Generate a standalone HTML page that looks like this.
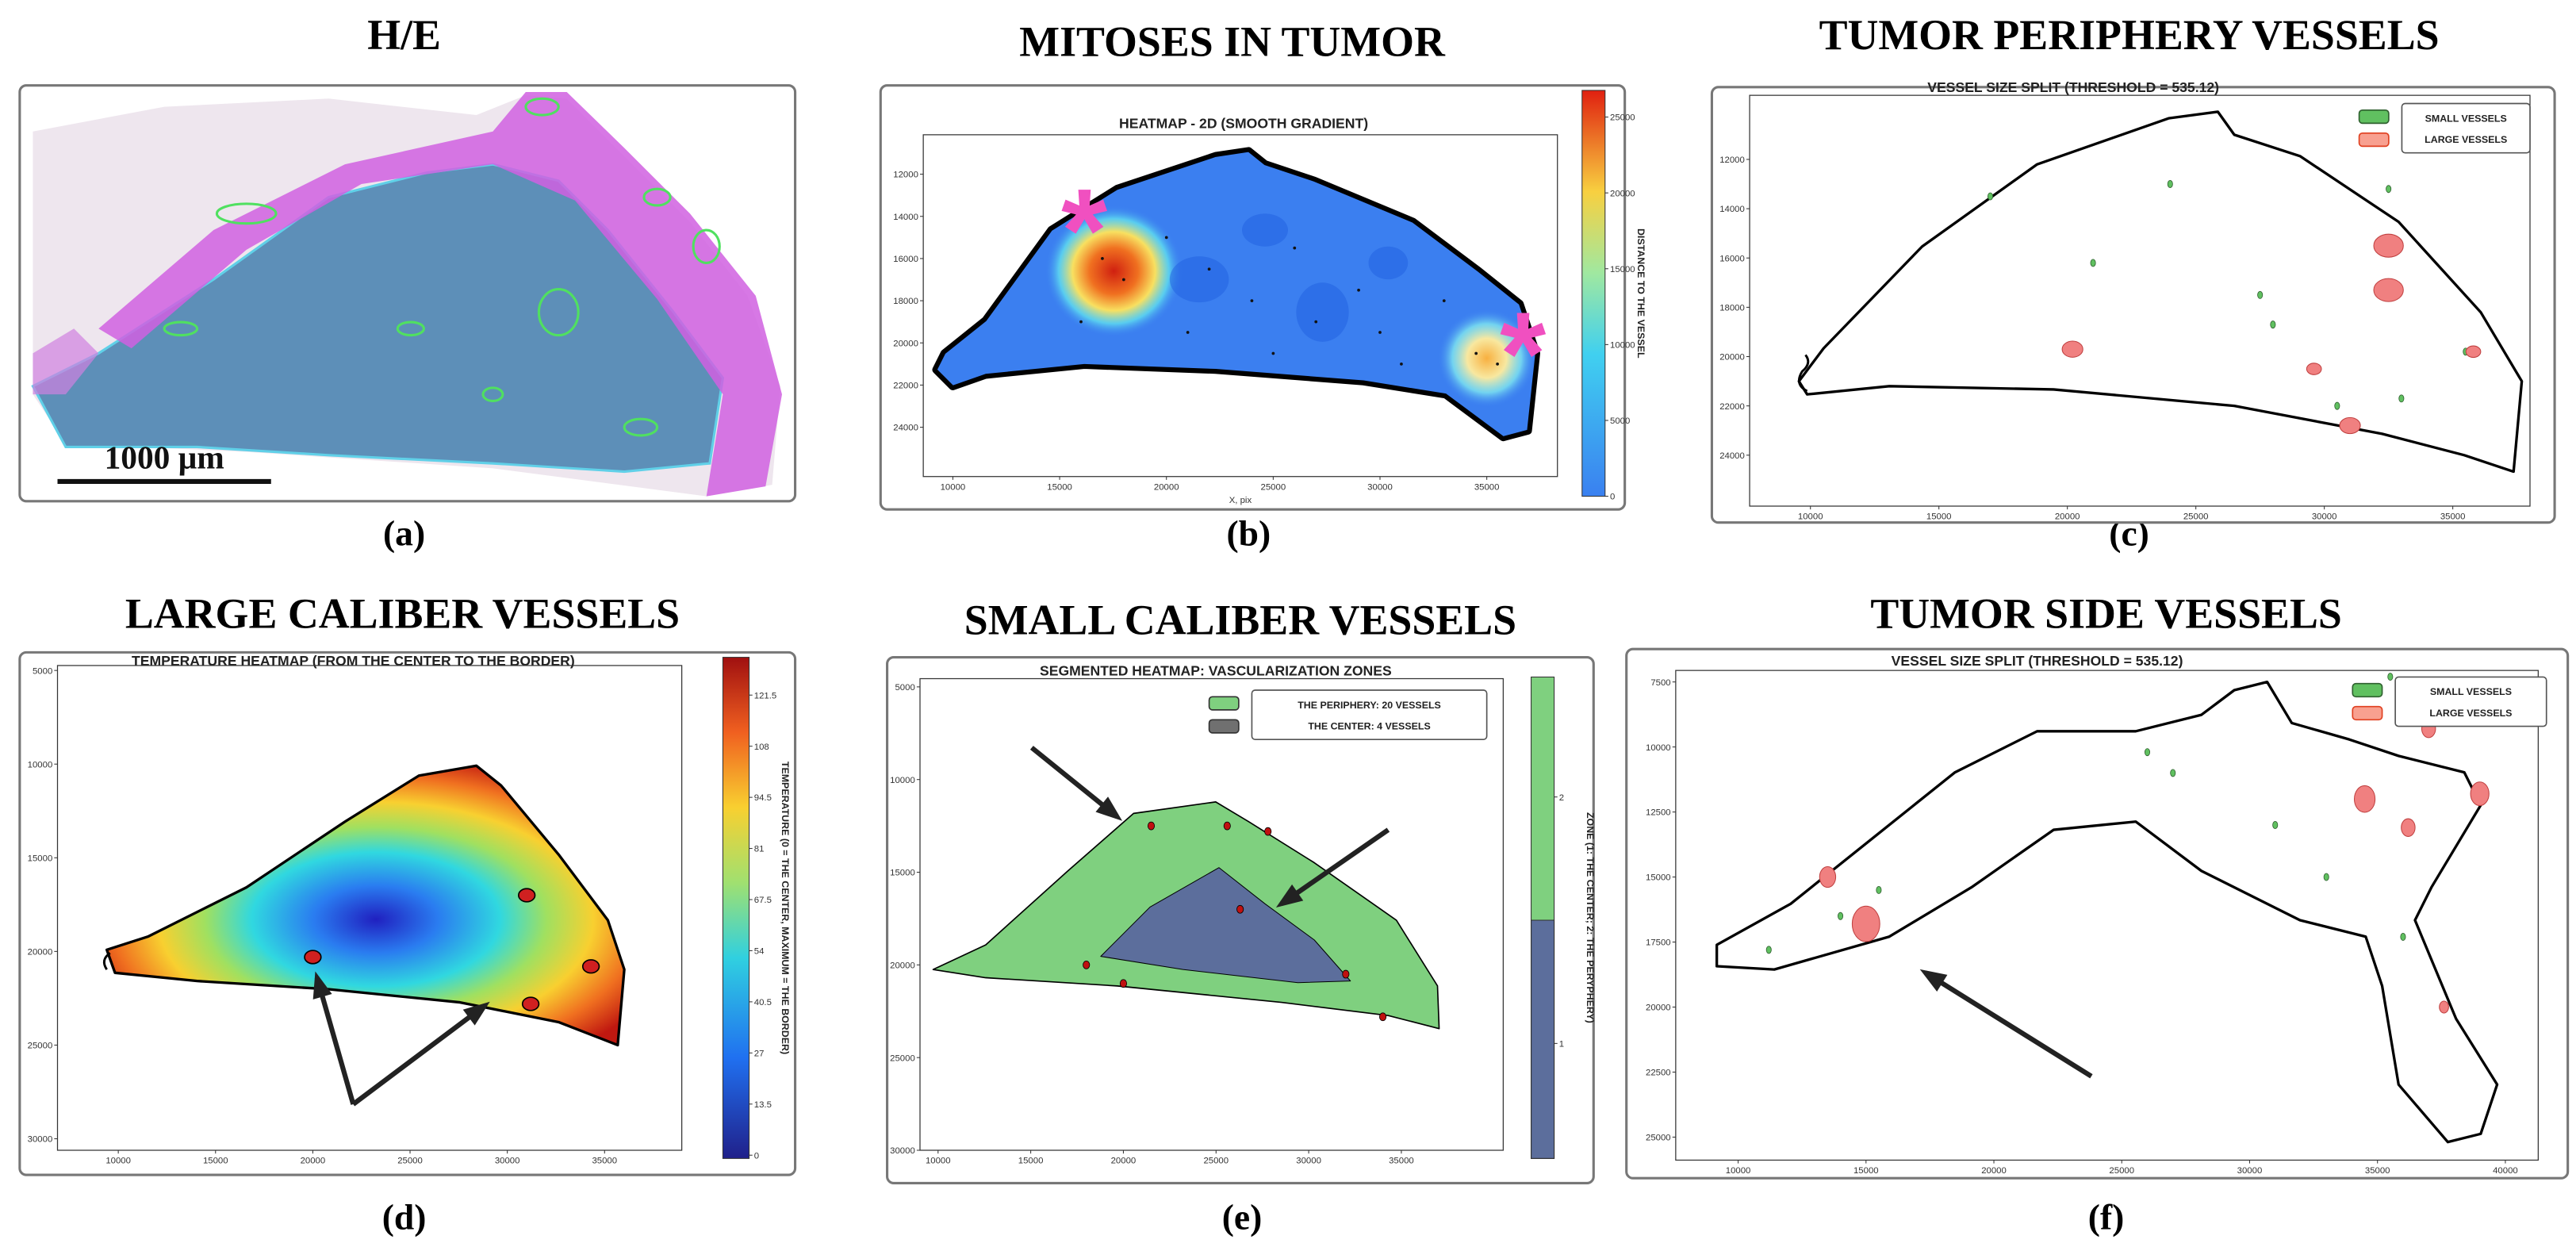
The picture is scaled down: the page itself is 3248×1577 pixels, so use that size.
<!DOCTYPE html>
<html><head><meta charset="utf-8">
<style>
html,body{margin:0;padding:0;background:#fff;}
svg{display:block;}
.t{font-family:"Liberation Serif",serif;font-weight:bold;font-size:26px;text-anchor:middle;}
.lb{font-family:"Liberation Serif",serif;font-weight:bold;font-size:22px;text-anchor:middle;}
.tk{font-family:"Liberation Sans",sans-serif;font-size:5.5px;fill:#333;}
.st{font-family:"Liberation Sans",sans-serif;font-weight:bold;font-size:8.5px;text-anchor:middle;fill:#222;}
.lg{font-family:"Liberation Sans",sans-serif;font-weight:bold;font-size:6px;fill:#222;}
</style></head>
<body>
<svg id="fig" width="3248" height="1577" viewBox="0 0 1568 761.3" xmlns="http://www.w3.org/2000/svg">
<defs>
<radialGradient id="gd" cx="0.52" cy="0.55" r="0.6">
<stop offset="0" stop-color="#2020c0"/><stop offset="0.2" stop-color="#2a7cf0"/><stop offset="0.4" stop-color="#30d8e0"/><stop offset="0.55" stop-color="#a0e060"/><stop offset="0.7" stop-color="#f8d030"/><stop offset="0.85" stop-color="#f07020"/><stop offset="1" stop-color="#c01810"/>
</radialGradient>
<radialGradient id="hot1"><stop offset="0" stop-color="#d02010"/><stop offset="0.35" stop-color="#f07020"/><stop offset="0.6" stop-color="#f8e060"/><stop offset="0.8" stop-color="#60e0f0" stop-opacity="0.8"/><stop offset="1" stop-color="#3b7ff0" stop-opacity="0"/></radialGradient>
<radialGradient id="hot2"><stop offset="0" stop-color="#f8b040"/><stop offset="0.4" stop-color="#f8e8a0"/><stop offset="0.7" stop-color="#80e8f0" stop-opacity="0.8"/><stop offset="1" stop-color="#3b7ff0" stop-opacity="0"/></radialGradient>
<linearGradient id="jet" x1="0" y1="1" x2="0" y2="0">
<stop offset="0" stop-color="#3a80f0"/><stop offset="0.35" stop-color="#40d0f0"/><stop offset="0.55" stop-color="#a0e8a0"/><stop offset="0.75" stop-color="#f8d040"/><stop offset="1" stop-color="#e02010"/></linearGradient>
<linearGradient id="jet2" x1="0" y1="1" x2="0" y2="0">
<stop offset="0" stop-color="#20208a"/><stop offset="0.2" stop-color="#2070f0"/><stop offset="0.4" stop-color="#30d0e0"/><stop offset="0.55" stop-color="#a0e070"/><stop offset="0.7" stop-color="#f8d030"/><stop offset="0.85" stop-color="#f06020"/><stop offset="1" stop-color="#a01010"/></linearGradient>
</defs>

<text class="t" x="246" y="30">H/E</text>
<text class="t" x="750" y="34">MITOSES IN TUMOR</text>
<text class="t" x="1296" y="30">TUMOR PERIPHERY VESSELS</text>
<text class="t" x="245" y="382">LARGE CALIBER VESSELS</text>
<text class="t" x="755" y="386">SMALL CALIBER VESSELS</text>
<text class="t" x="1282" y="382">TUMOR SIDE VESSELS</text>
<text class="lb" x="246" y="332">(a)</text>
<text class="lb" x="760" y="332">(b)</text>
<text class="lb" x="1296" y="332">(c)</text>
<text class="lb" x="246" y="748">(d)</text>
<text class="lb" x="756" y="748">(e)</text>
<text class="lb" x="1282" y="748">(f)</text>

<rect x="12" y="52" width="472" height="253" rx="4" fill="#fff" stroke="#777" stroke-width="1.5"/>
<rect x="536" y="52" width="453" height="258" rx="4" fill="#fff" stroke="#777" stroke-width="1.5"/>
<rect x="1042" y="53" width="513" height="265" rx="4" fill="#fff" stroke="#777" stroke-width="1.5"/>
<rect x="12" y="397" width="472" height="318" rx="4" fill="#fff" stroke="#777" stroke-width="1.5"/>
<rect x="540" y="400" width="430" height="320" rx="4" fill="#fff" stroke="#777" stroke-width="1.5"/>
<rect x="990" y="395" width="573" height="322" rx="4" fill="#fff" stroke="#777" stroke-width="1.5"/>

<g>
<polygon points="20,80 100,65 200,60 290,70 320,58 345,60 380,95 420,135 455,180 475,235 470,295 430,302 300,285 150,275 40,270 20,240" fill="#eee6ee"/>
<polygon points="20,235 60,215 130,170 200,120 260,105 300,100 340,110 370,140 410,190 440,230 432,282 380,287 300,282 200,277 120,272 40,272" fill="#5d8fb8" stroke="#60d0e8" stroke-width="1.5"/>
<polygon points="60,200 130,140 210,100 300,80 320,56 345,56 380,90 420,130 460,180 476,240 466,296 430,302 440,240 400,182 350,122 300,100 220,112 150,152 80,212" fill="#d060e0" opacity="0.85"/>
<polygon points="20,215 45,200 60,215 40,240 20,240" fill="#d080e0" opacity="0.7"/>
<g fill="none" stroke="#50e060" stroke-width="1.5">
<ellipse cx="150" cy="130" rx="18" ry="6"/><ellipse cx="340" cy="190" rx="12" ry="14"/><ellipse cx="330" cy="65" rx="10" ry="5"/><ellipse cx="430" cy="150" rx="8" ry="10"/><ellipse cx="250" cy="200" rx="8" ry="4"/><ellipse cx="110" cy="200" rx="10" ry="4"/><ellipse cx="400" cy="120" rx="8" ry="5"/><ellipse cx="300" cy="240" rx="6" ry="4"/><ellipse cx="390" cy="260" rx="10" ry="5"/></g>
<line x1="35" y1="293" x2="165" y2="293" stroke="#111" stroke-width="3"/>
<text x="100" y="285" font-family="Liberation Serif,serif" font-weight="bold" font-size="20" text-anchor="middle" fill="#111">1000 μm</text>
</g>

<g id="pb"></g>
<g id="pc"></g>
<g id="pd"></g>
<g id="pe"></g>
<g id="pf"></g>
</svg>
<script>
const NS="http://www.w3.org/2000/svg";
const bXTicks=[10000,15000,20000,25000,30000,35000];
const bYTicks=[12000,14000,16000,18000,20000,22000,24000];
const bCbTicks=[0,5000,10000,15000,20000,25000];
const cXTicks=[10000,15000,20000,25000,30000,35000];
const cYTicks=[12000,14000,16000,18000,20000,22000,24000];
const dXTicks=[10000,15000,20000,25000,30000,35000];
const dYTicks=[5000,10000,15000,20000,25000,30000];
const dCbTicks=[0,13.5,27,40.5,54,67.5,81,94.5,108,121.5];
const eXTicks=[10000,15000,20000,25000,30000,35000];
const eYTicks=[5000,10000,15000,20000,25000,30000];
const fXTicks=[10000,15000,20000,25000,30000,35000,40000];
const fYTicks=[7500,10000,12500,15000,17500,20000,22500,25000];
const cSmall=[[17000,13500],[24000,13000],[32500,13200],[27500,17500],[21000,16200],[28000,18700],[35500,19800],[30500,22000],[33000,21700]];
const cLarge=[[32500,15500,1.0],[32500,17300,1.0],[20200,19700,0.7],[29600,20500,0.5],[31000,22800,0.7],[35800,19800,0.5]];
const dLarge=[[31000,17000],[20000,20300],[31200,22800],[34300,20800]];
const eVessels=[[21500,12500],[25600,12500],[27800,12800],[26300,17000],[32000,20500],[34000,22800],[20000,21000],[18000,20000]];
const fSmall=[[35500,7300],[37500,8100],[26000,10200],[31000,13000],[11200,17800],[14000,16500],[15500,15500],[33000,15000],[36000,17300],[27000,11000]];
const fLarge=[[37000,9300,0.6],[34500,12000,0.9],[15000,16800,1.2],[13500,15000,0.7],[39000,11800,0.8],[36200,13100,0.6],[37600,20000,0.4]];
const bMitoses=[[17000,16000],[18000,17000],[20000,15000],[22000,16500],[24000,18000],[26000,15500],[27000,19000],[29000,17500],[30000,19500],[33000,18000],[34500,20500],[35500,21000],[16000,19000],[21000,19500],[25000,20500],[31000,21000]];

function el(p,t,a){const e=document.createElementNS(NS,t);for(const k in a)e.setAttribute(k,a[k]);p.appendChild(e);return e;}
function lin(d0,d1,r0,r1){return v=>r0+(v-d0)*(r1-r0)/(d1-d0);}
function axes(g,box,sx,sy,xt,yt){
  const r=el(g,'rect',{x:box[0],y:box[1],width:box[2]-box[0],height:box[3]-box[1],fill:'none',stroke:'#333','stroke-width':0.6});
  
  
  xt.forEach(v=>{const x=sx(v);el(g,'line',{x1:x,x2:x,y1:box[3],y2:box[3]+2,stroke:'#333','stroke-width':0.5});
    const t=el(g,'text',{x:x,y:box[3]+8,class:'tk','text-anchor':'middle'});t.textContent=v;
    
    });
  yt.forEach(v=>{const y=sy(v);el(g,'line',{x1:box[0]-2,x2:box[0],y1:y,y2:y,stroke:'#333','stroke-width':0.5});
    const t=el(g,'text',{x:box[0]-3,y:y+2,class:'tk','text-anchor':'end'});t.textContent=v;
    
    });
}
function cbar(g,x,y0,y1,w,fill,ticks,sc,label){
  const r=el(g,'rect',{x:x,y:y0,width:w,height:y1-y0,fill:fill,stroke:'#333','stroke-width':0.5});
  
  
  ticks.forEach(v=>{const y=sc(v);el(g,'line',{x1:x+w,x2:x+w+2,y1:y,y2:y,stroke:'#333','stroke-width':0.5});
    const t=el(g,'text',{x:x+w+3,y:y+2,class:'tk'});t.textContent=v;
    
    });
  const cx=x+w+20,cy=(y0+y1)/2;
  const t=el(g,'text',{x:cx,y:cy,class:'lg','text-anchor':'middle',transform:`rotate(90 ${cx} ${cy})`});t.textContent=label;
  
  
}
function title(g,x,y,s){const t=el(g,'text',{x:x,y:y,class:'st'});t.textContent=s;
  
  }
function blob(g,pts,fill,sw){return el(g,'polygon',{points:pts,fill:fill,stroke:'#000','stroke-width':sw||1.5,'stroke-linejoin':'round'});}
function legend(g,x,y,w,items){
  const r=el(g,'rect',{x:x,y:y,width:w,height:30,rx:2,fill:'#fff',stroke:'#555','stroke-width':0.8});
  
  
  items.forEach((it,i)=>{const b=el(g,'rect',{x:x-26,y:y+4+i*14,width:18,height:8,rx:2,fill:it[0],stroke:it[1],'stroke-width':0.8});
    
    
    const t=el(g,'text',{x:x+w/2,y:y+11+i*13,class:'lg','text-anchor':'middle'});t.textContent=it[2];
    
    });
}
function arrow(g,x1,y1,x2,y2){
  el(g,'line',{x1:x1,y1:y1,x2:x2,y2:y2,stroke:'#222','stroke-width':3});
  const a=Math.atan2(y2-y1,x2-x1),L=12,W=6;
  const p=[[x2+4*Math.cos(a),y2+4*Math.sin(a)],[x2-L*Math.cos(a)+W*Math.sin(a),y2-L*Math.sin(a)-W*Math.cos(a)],[x2-L*Math.cos(a)-W*Math.sin(a),y2-L*Math.sin(a)+W*Math.cos(a)]];
  const h=el(g,'polygon',{points:p.map(q=>q.join(',')).join(' '),fill:'#222'});
  
  
}

(function(){const g=document.getElementById('pb');
  const sx=lin(10000,35000,580,905),sy=lin(12000,24000,106,260);
  title(g,757,78,'HEATMAP - 2D (SMOOTH GRADIENT)');
  axes(g,[562,82,948,290],sx,sy,bXTicks,bYTicks);
  const pts="575,215 600,195 640,140 680,115 740,95 760,92 770,100 800,110 860,135 900,165 925,185 935,215 930,262 915,266 880,240 830,232 740,225 660,222 600,228 580,235 570,225";
  el(g,'polygon',{points:pts,fill:'#fff',stroke:'#000','stroke-width':5,'stroke-linejoin':'round'});
  blob(g,pts,'#3b7ff0',1);
  el(g,'ellipse',{cx:678,cy:165,rx:42,ry:40,fill:'url(#hot1)'});
  el(g,'ellipse',{cx:905,cy:218,rx:30,ry:30,fill:'url(#hot2)'});
  [[730,170,18,14],[805,190,16,18],[845,160,12,10],[770,140,14,10]].forEach(e=>el(g,'ellipse',{cx:e[0],cy:e[1],rx:e[2],ry:e[3],fill:'#2060e0',opacity:0.5}));
  bMitoses.forEach(m=>{const c=el(g,'circle',{cx:sx(m[0]),cy:sy(m[1]),r:0.9,fill:'#111'});
    
    });
  [[660,135],[927,210]].forEach(p=>{const t=el(g,'text',{x:p[0],y:p[1]+30,'font-size':72,'font-family':'Liberation Sans,sans-serif','font-weight':'bold',fill:'#f050c0','text-anchor':'middle'});t.textContent='*';
    
    });
  const t1=el(g,'text',{x:755,y:306,class:'tk','text-anchor':'middle'});t1.textContent='X, pix';
  const cb=lin(0,26000,302,62);
  cbar(g,963,55,302,14,'url(#jet)',bCbTicks,cb,'DISTANCE TO THE VESSEL');
})();

(function(){const g=document.getElementById('pc');
  const sx=lin(10000,35000,1102,1493),sy=lin(12000,24000,97,277);
  title(g,1262,56,'VESSEL SIZE SPLIT (THRESHOLD = 535.12)');
  axes(g,[1065,58,1540,308],sx,sy,cXTicks,cYTicks);
  blob(g,"1095,232 1110,212 1170,150 1240,100 1320,72 1350,68 1360,82 1400,95 1460,135 1510,190 1535,232 1530,287 1500,277 1450,264 1360,247 1250,237 1150,235 1100,240",'#fff',1.6);
  el(g,'path',{d:'M1100,238 q-8,-4 -3,-12 q6,-5 2,-10',fill:'none',stroke:'#000','stroke-width':1.4});
  cSmall.forEach(v=>{const e=el(g,'ellipse',{cx:sx(v[0]),cy:sy(v[1]),rx:1.5,ry:2.2,fill:'#60c060',stroke:'#306030','stroke-width':0.4});
    
    });
  cLarge.forEach(v=>{const e=el(g,'ellipse',{cx:sx(v[0]),cy:sy(v[1]),rx:9*v[2],ry:7*v[2],fill:'#f08080',stroke:'#c04040','stroke-width':0.5});
    
    });
  legend(g,1462,63,78,[['#60c060','#306030','SMALL VESSELS'],['#f8a090','#e04020','LARGE VESSELS']]);
})();

(function(){const g=document.getElementById('pd');
  const sx=lin(10000,35000,72,368),sy=lin(5000,30000,408,693);
  title(g,215,405,'TEMPERATURE HEATMAP (FROM THE CENTER TO THE BORDER)');
  axes(g,[35,405,415,700],sx,sy,dXTicks,dYTicks);
  blob(g,"65,578 90,570 150,540 210,500 255,472 290,466 305,478 340,520 370,560 380,590 376,636 340,622 280,610 200,602 120,597 70,592",'url(#gd)',1.6);
  el(g,'path',{d:'M67,580 q-6,4 -2,10',fill:'none',stroke:'#000','stroke-width':1.4});
  dLarge.forEach(v=>{const e=el(g,'ellipse',{cx:sx(v[0]),cy:sy(v[1]),rx:5,ry:4,fill:'#d02020',stroke:'#000','stroke-width':0.8});
    
    });
  arrow(g,215,672,193,595);arrow(g,215,672,295,612);
  const cb=lin(0,121.5,703,423);
  cbar(g,440,400,705,16,'url(#jet2)',dCbTicks,cb,'TEMPERATURE (0 = THE CENTER, MAXIMUM = THE BORDER)');
})();

(function(){const g=document.getElementById('pe');
  const sx=lin(10000,35000,571,853),sy=lin(5000,30000,418,700);
  title(g,740,411,'SEGMENTED HEATMAP: VASCULARIZATION ZONES');
  axes(g,[560,413,915,700],sx,sy,eXTicks,eYTicks);
  blob(g,"568,590 600,575 650,530 690,495 740,488 760,500 800,525 850,560 875,600 876,626 845,618 780,610 680,600 600,595",'#7fd07f',0.8);
  blob(g,"670,582 700,552 742,528 770,550 800,572 822,597 790,598 720,590",'#5c6e9c',0.5);
  eVessels.forEach(v=>{const e=el(g,'ellipse',{cx:sx(v[0]),cy:sy(v[1]),rx:2,ry:2.4,fill:'#c01010',stroke:'#000','stroke-width':0.4});
    
    });
  legend(g,762,420,143,[['#7fd07f','#333','THE PERIPHERY: 20 VESSELS'],['#707070','#333','THE CENTER: 4 VESSELS']]);
  arrow(g,628,455,680,497);arrow(g,845,505,780,550);
  const r1=el(g,'rect',{x:932,y:412,width:14,height:148,fill:'#7fd07f',stroke:'#333','stroke-width':0.4});
  
  
  const cb=lin(1,2,635,485);
  cbar(g,932,560,705,14,'#5c6e9c',[],cb,'');
  cbar(g,932,412,705,14,'none',[1,2],cb,'ZONE (1: THE CENTER; 2: THE PERYPHERY)');
})();

(function(){const g=document.getElementById('pf');
  const sx=lin(10000,40000,1058,1525),sy=lin(7500,25000,415,692);
  title(g,1240,405,'VESSEL SIZE SPLIT (THRESHOLD = 535.12)');
  axes(g,[1020,408,1545,706],sx,sy,fXTicks,fYTicks);
  blob(g,"1045,575 1090,550 1140,510 1190,470 1240,445 1300,445 1340,435 1360,420 1380,415 1395,440 1430,450 1460,460 1500,470 1510,490 1480,540 1470,560 1495,620 1520,660 1510,690 1490,695 1460,660 1450,600 1440,570 1400,560 1340,530 1300,500 1250,505 1200,540 1150,570 1080,590 1045,588",'#fff',1.6);
  fSmall.forEach(v=>{const e=el(g,'ellipse',{cx:sx(v[0]),cy:sy(v[1]),rx:1.5,ry:2.2,fill:'#60c060',stroke:'#306030','stroke-width':0.4});
    
    });
  fLarge.forEach(v=>{const e=el(g,'ellipse',{cx:sx(v[0]),cy:sy(v[1]),rx:7*v[2],ry:9*v[2],fill:'#f08080',stroke:'#c04040','stroke-width':0.5});
    
    });
  legend(g,1458,412,92,[['#60c060','#306030','SMALL VESSELS'],['#f8a090','#e04020','LARGE VESSELS']]);
  arrow(g,1273,655,1172,592);
})();
</script>
</body></html>
